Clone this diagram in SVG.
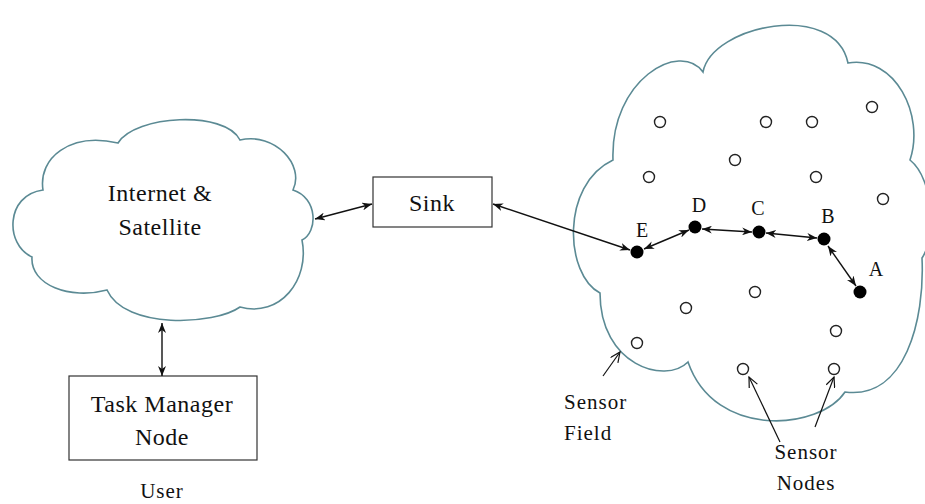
<svg xmlns="http://www.w3.org/2000/svg" width="925" height="504" viewBox="0 0 925 504">
<style>
.cloud{fill:#fff;stroke:#5b8a94;stroke-width:1.6}
.box{fill:#fff;stroke:#333;stroke-width:1.2}
.t{font-family:"Liberation Serif","DejaVu Serif",serif;fill:#111;text-anchor:middle}
.big{font-size:24px;letter-spacing:0.5px}
.sm{font-size:21px;letter-spacing:1px}
.lt{font-size:20px}
.conn{stroke:#111;stroke-width:1.4;fill:none;marker-start:url(#ah);marker-end:url(#ah)}
.ptr{stroke:#111;stroke-width:1.2;fill:none;marker-end:url(#oh)}
.open{fill:#fff;stroke:#222;stroke-width:1.4}
.fill{fill:#000}
</style>
<defs>
<marker id="ah" viewBox="0 0 10 8" refX="10" refY="4" markerWidth="10" markerHeight="8" markerUnits="userSpaceOnUse" orient="auto-start-reverse">
<path d="M0,0 L10,4 L0,8 L3,4 z" fill="#111"/>
</marker>
<marker id="oh" viewBox="0 0 12 10" refX="11" refY="5" markerWidth="12" markerHeight="10" markerUnits="userSpaceOnUse" orient="auto">
<path d="M1,0.5 L11,5 L1,9.5" fill="none" stroke="#111" stroke-width="1.2"/>
</marker>
</defs>

<g id="internet">
<path class="cloud" d="M43,190 C38,158 70,132 118,143 C135,115 225,110 240,140 C275,132 305,165 293,190 C318,198 318,232 302,240 C310,280 280,318 240,307 C215,325 125,330 107,290 C70,300 30,285 32,257 C5,245 5,195 43,190 Z"/>
<text class="t big" x="160" y="201">Internet &amp;</text>
<text class="t big" x="160" y="235">Satellite</text>
</g>

<g id="sink">
<rect class="box" x="373" y="177" width="119" height="50"/>
<text class="t big" x="432" y="211">Sink</text>
</g>

<g id="taskmanager">
<rect class="box" x="69" y="376" width="188" height="84"/>
<text class="t big" x="162" y="412">Task Manager</text>
<text class="t big" x="162" y="445">Node</text>
</g>

<g id="user">
<text class="t sm" x="162" y="498">User</text>
</g>

<g id="sensorfield">
<path class="cloud" d="M703,72 C712,25 835,0 848,63 C895,55 925,115 910,160 C935,180 935,240 922,258 C925,320 905,400 845,392 C820,430 715,440 688,362 C665,385 600,365 600,293 C565,275 560,185 613,160 C610,80 680,40 703,72 Z"/>
</g>

<g id="sensors">
<circle class="open" cx="660" cy="122" r="5.5"/>
<circle class="open" cx="766" cy="122" r="5.5"/>
<circle class="open" cx="812" cy="122" r="5.5"/>
<circle class="open" cx="872" cy="107" r="5.5"/>
<circle class="open" cx="735" cy="160" r="5.5"/>
<circle class="open" cx="649" cy="177" r="5.5"/>
<circle class="open" cx="816" cy="177" r="5.5"/>
<circle class="open" cx="883" cy="199" r="5.5"/>
<circle class="open" cx="755" cy="292" r="5.5"/>
<circle class="open" cx="686" cy="308" r="5.5"/>
<circle class="open" cx="637" cy="343" r="5.5"/>
<circle class="open" cx="836" cy="331" r="5.5"/>
<circle class="open" cx="743" cy="369" r="5.5"/>
<circle class="open" cx="834" cy="369" r="5.5"/>
</g>

<g id="nodeE"><circle class="fill" cx="637" cy="252" r="6.5"/><text class="t lt" x="642" y="237">E</text></g>
<g id="nodeD"><circle class="fill" cx="695" cy="227" r="6.5"/><text class="t lt" x="699" y="212">D</text></g>
<g id="nodeC"><circle class="fill" cx="759" cy="232" r="6.5"/><text class="t lt" x="758" y="215">C</text></g>
<g id="nodeB"><circle class="fill" cx="824" cy="239" r="6.5"/><text class="t lt" x="828" y="223">B</text></g>
<g id="nodeA"><circle class="fill" cx="860" cy="292" r="6.5"/><text class="t lt" x="876" y="276">A</text></g>

<g id="labels">
<text class="t sm" x="564" y="409" style="text-anchor:start">Sensor</text>
<text class="t sm" x="564" y="440" style="text-anchor:start">Field</text>
<text class="t sm" x="806" y="459">Sensor</text>
<text class="t sm" x="806" y="490">Nodes</text>
</g>

<g id="connectors">
<line class="conn" x1="315" y1="219" x2="372" y2="204"/>
<line class="conn" x1="162" y1="323" x2="162" y2="376"/>
<line class="conn" x1="493" y1="204" x2="630" y2="250"/>
<line class="conn" x1="644" y1="249" x2="689" y2="230"/>
<line class="conn" x1="702" y1="229" x2="752" y2="232"/>
<line class="conn" x1="766" y1="233" x2="817" y2="238"/>
<line class="conn" x1="828" y1="246" x2="856" y2="286"/>
<line class="ptr" x1="603" y1="376" x2="620" y2="352"/>
<line class="ptr" x1="780" y1="442" x2="749" y2="377"/>
<line class="ptr" x1="815" y1="427" x2="834" y2="377"/>
</g>
</svg>
